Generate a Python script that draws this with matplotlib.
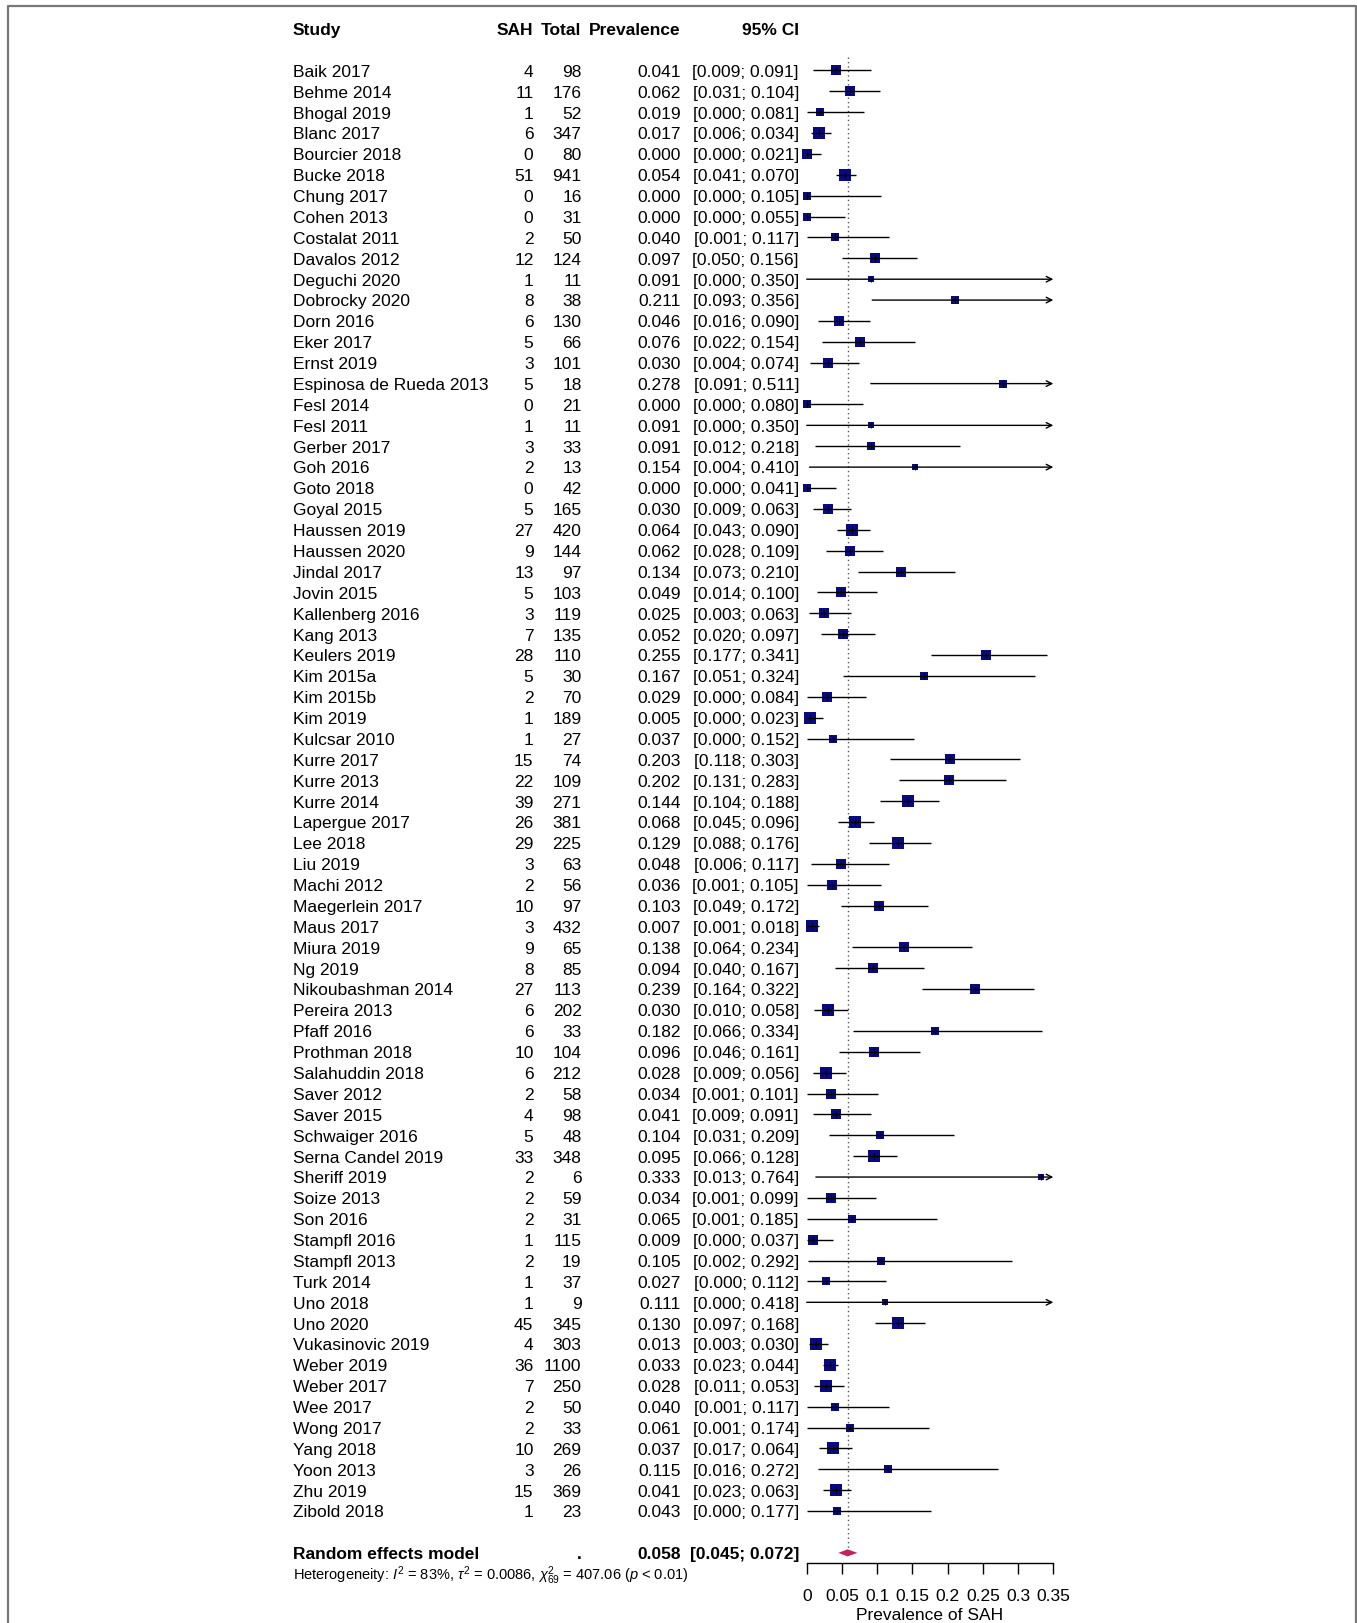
import matplotlib
matplotlib.use("Agg")
import matplotlib.pyplot as plt
import numpy as np
from matplotlib import transforms
from matplotlib.lines import Line2D

plt.rcParams['font.family'] = ['Liberation Sans', 'DejaVu Sans']
plt.rcParams['mathtext.fontset'] = 'custom'
plt.rcParams['mathtext.rm'] = 'Liberation Sans'
plt.rcParams['mathtext.it'] = 'Liberation Sans:italic'
plt.rcParams['mathtext.bf'] = 'Liberation Sans:bold'

# ---------------- data ----------------
studies = ["Baik 2017", "Behme 2014", "Bhogal 2019", "Blanc 2017", "Bourcier 2018",
           "Bucke 2018", "Chung 2017", "Cohen 2013", "Costalat 2011", "Davalos 2012",
           "Deguchi 2020", "Dobrocky 2020", "Dorn 2016", "Eker 2017", "Ernst 2019",
           "Espinosa de Rueda 2013", "Fesl 2014", "Fesl 2011", "Gerber 2017", "Goh 2016",
           "Goto 2018", "Goyal 2015", "Haussen 2019", "Haussen 2020", "Jindal 2017",
           "Jovin 2015", "Kallenberg 2016", "Kang 2013", "Keulers 2019", "Kim 2015a",
           "Kim 2015b", "Kim 2019", "Kulcsar 2010", "Kurre 2017", "Kurre 2013",
           "Kurre 2014", "Lapergue 2017", "Lee 2018", "Liu 2019", "Machi 2012",
           "Maegerlein 2017", "Maus 2017", "Miura 2019", "Ng 2019", "Nikoubashman 2014",
           "Pereira 2013", "Pfaff 2016", "Prothman 2018", "Salahuddin 2018", "Saver 2012",
           "Saver 2015", "Schwaiger 2016", "Serna Candel 2019", "Sheriff 2019", "Soize 2013",
           "Son 2016", "Stampfl 2016", "Stampfl 2013", "Turk 2014", "Uno 2018",
           "Uno 2020", "Vukasinovic 2019", "Weber 2019", "Weber 2017", "Wee 2017",
           "Wong 2017", "Yang 2018", "Yoon 2013", "Zhu 2019", "Zibold 2018"]
sah = [4, 11, 1, 6, 0, 51, 0, 0, 2, 12,
       1, 8, 6, 5, 3, 5, 0, 1, 3, 2,
       0, 5, 27, 9, 13, 5, 3, 7, 28, 5,
       2, 1, 1, 15, 22, 39, 26, 29, 3, 2,
       10, 3, 9, 8, 27, 6, 6, 10, 6, 2,
       4, 5, 33, 2, 2, 2, 1, 2, 1, 1,
       45, 4, 36, 7, 2, 2, 10, 3, 15, 1]
total = [98, 176, 52, 347, 80, 941, 16, 31, 50, 124,
         11, 38, 130, 66, 101, 18, 21, 11, 33, 13,
         42, 165, 420, 144, 97, 103, 119, 135, 110, 30,
         70, 189, 27, 74, 109, 271, 381, 225, 63, 56,
         97, 432, 65, 85, 113, 202, 33, 104, 212, 58,
         98, 48, 348, 6, 59, 31, 115, 19, 37, 9,
         345, 303, 1100, 250, 50, 33, 269, 26, 369, 23]
prev = [0.041, 0.062, 0.019, 0.017, 0.000, 0.054, 0.000, 0.000, 0.040, 0.097,
        0.091, 0.211, 0.046, 0.076, 0.030, 0.278, 0.000, 0.091, 0.091, 0.154,
        0.000, 0.030, 0.064, 0.062, 0.134, 0.049, 0.025, 0.052, 0.255, 0.167,
        0.029, 0.005, 0.037, 0.203, 0.202, 0.144, 0.068, 0.129, 0.048, 0.036,
        0.103, 0.007, 0.138, 0.094, 0.239, 0.030, 0.182, 0.096, 0.028, 0.034,
        0.041, 0.104, 0.095, 0.333, 0.034, 0.065, 0.009, 0.105, 0.027, 0.111,
        0.130, 0.013, 0.033, 0.028, 0.040, 0.061, 0.037, 0.115, 0.041, 0.043]
ci_low = [0.009, 0.031, 0.000, 0.006, 0.000, 0.041, 0.000, 0.000, 0.001, 0.050,
          0.000, 0.093, 0.016, 0.022, 0.004, 0.091, 0.000, 0.000, 0.012, 0.004,
          0.000, 0.009, 0.043, 0.028, 0.073, 0.014, 0.003, 0.020, 0.177, 0.051,
          0.000, 0.000, 0.000, 0.118, 0.131, 0.104, 0.045, 0.088, 0.006, 0.001,
          0.049, 0.001, 0.064, 0.040, 0.164, 0.010, 0.066, 0.046, 0.009, 0.001,
          0.009, 0.031, 0.066, 0.013, 0.001, 0.001, 0.000, 0.002, 0.000, 0.000,
          0.097, 0.003, 0.023, 0.011, 0.001, 0.001, 0.017, 0.016, 0.023, 0.000]
ci_high = [0.091, 0.104, 0.081, 0.034, 0.021, 0.070, 0.105, 0.055, 0.117, 0.156,
           0.350, 0.356, 0.090, 0.154, 0.074, 0.511, 0.080, 0.350, 0.218, 0.410,
           0.041, 0.063, 0.090, 0.109, 0.210, 0.100, 0.063, 0.097, 0.341, 0.324,
           0.084, 0.023, 0.152, 0.303, 0.283, 0.188, 0.096, 0.176, 0.117, 0.105,
           0.172, 0.018, 0.234, 0.167, 0.322, 0.058, 0.334, 0.161, 0.056, 0.101,
           0.091, 0.209, 0.128, 0.764, 0.099, 0.185, 0.037, 0.292, 0.112, 0.418,
           0.168, 0.030, 0.044, 0.053, 0.117, 0.174, 0.064, 0.272, 0.063, 0.177]

re_label = "Random effects model"
re_est, re_low, re_high = 0.058, 0.045, 0.072
tau2 = 0.0086
het_text = (r"Heterogeneity: $I^2$ = 83%, $\tau^2$ = 0.0086, "
            r"$\chi^2_{69}$ = 407.06 ($p$ < 0.01)")
xticks = [0, 0.05, 0.1, 0.15, 0.2, 0.25, 0.3, 0.35]
xticklabels = ["0", "0.05", "0.1", "0.15", "0.2", "0.25", "0.3", "0.35"]
xlabel = "Prevalence of SAH"
headers = ["Study", "SAH", "Total", "Prevalence", "95% CI"]

# ---------------- layout ----------------
W, H = 1357, 1623
fig = plt.figure(figsize=(W / 100, H / 100), dpi=100)
row0, dy = 70.4, 20.88
ax_left, ax_right = 806.7, 1053.3
ax_top_row = -3
ax_bottom_pix = 1562.7
ax_top_pix = row0 + dy * ax_top_row
ax = fig.add_axes([ax_left / W, 1 - ax_bottom_pix / H,
                   (ax_right - ax_left) / W, (ax_bottom_pix - ax_top_pix) / H])
ax.set_xlim(0, 0.35)
ax.set_ylim((ax_bottom_pix - row0) / dy, ax_top_row)
ax.set_facecolor('none')
for s in ['top', 'right', 'left']:
    ax.spines[s].set_visible(False)
ax.spines['bottom'].set_linewidth(1.0)
ax.set_yticks([])
ax.set_xticks(xticks)
ax.set_xticklabels(xticklabels)
ax.tick_params(axis='x', direction='out', length=7.7, width=1.0,
               labelsize=12.5, pad=11)
ax.set_xlabel(xlabel, fontsize=12.5, labelpad=3)

n = len(studies)
rows = np.arange(n)
re_row = n + 1
hdr_row = -2
het_row = n + 2
toff = 0.09  # text baseline nudge (rows)

trans = transforms.blended_transform_factory(fig.transFigure, ax.transData)
FS = 12.5
x_study, x_sah, x_tot, x_prev, x_ci = 293.0 / W, 533.5 / W, 581.5 / W, 680.5 / W, 799.0 / W

# headers
hdr_x = [x_study, x_sah, x_tot, x_prev, x_ci]
hdr_ha = ['left', 'right', 'right', 'right', 'right']
for lab, xx, ha in zip(headers, hdr_x, hdr_ha):
    ax.text(xx, hdr_row + toff, lab, transform=trans, ha=ha, va='center',
            fontsize=FS, fontweight='bold', clip_on=False)

# study rows
for i in range(n):
    r = rows[i] + toff
    ax.text(x_study, r, studies[i], transform=trans, ha='left', va='center', fontsize=FS)
    ax.text(x_sah, r, f"{sah[i]}", transform=trans, ha='right', va='center', fontsize=FS)
    ax.text(x_tot, r, f"{total[i]}", transform=trans, ha='right', va='center', fontsize=FS)
    ax.text(x_prev, r, f"{prev[i]:.3f}", transform=trans, ha='right', va='center', fontsize=FS)
    ax.text(x_ci, r, f"[{ci_low[i]:.3f}; {ci_high[i]:.3f}]", transform=trans,
            ha='right', va='center', fontsize=FS)

# random effects row
ax.text(x_study, re_row + toff, re_label, transform=trans, ha='left', va='center',
        fontsize=FS, fontweight='bold')
ax.text(x_tot, re_row + toff, ".", transform=trans, ha='right', va='center',
        fontsize=FS, fontweight='bold')
ax.text(x_prev, re_row + toff, f"{re_est:.3f}", transform=trans, ha='right', va='center',
        fontsize=FS, fontweight='bold')
ax.text(x_ci, re_row + toff, f"[{re_low:.3f}; {re_high:.3f}]", transform=trans, ha='right',
        va='center', fontsize=FS, fontweight='bold')
ax.text(x_study, het_row + toff, het_text, transform=trans, ha='left', va='center',
        fontsize=10.5, clip_on=False)

# reference dotted line
ax.plot([re_est, re_est], [-0.65, re_row - 0.17], color='#555555', lw=1.0,
        ls=(0, (1, 2.2)), zorder=1)

# CIs, squares
xmax = ax.get_xlim()[1]
navy = '#0a0a80'
for i in range(n):
    r = rows[i]
    hi = ci_high[i]
    if hi >= xmax:
        ax.annotate("", xy=(xmax, r), xytext=(ci_low[i], r),
                    arrowprops=dict(arrowstyle='->', color='black', lw=1.0,
                                    shrinkA=0, shrinkB=0, mutation_scale=10),
                    annotation_clip=False, zorder=3)
    else:
        ax.plot([ci_low[i], hi], [r, r], color='black', lw=1.0, zorder=3,
                solid_capstyle='butt', clip_on=False)
    w = 1.0 / (1.0 / (total[i] + 0.5) + tau2)
    side_px = 3.8 + 0.85 * np.sqrt(w)
    ax.plot([prev[i]], [r], marker='s', ms=side_px * 0.72, color=navy,
            mec=navy, mew=0, ls='none', zorder=2, clip_on=False)
    ax.plot([prev[i]], [r], marker='|', ms=4.0, color='black', mew=0.8,
            ls='none', zorder=4, clip_on=False)

# diamond
h = 0.17
ax.fill([re_low, re_est, re_high, re_est], [re_row, re_row - h, re_row, re_row + h],
        color='#c0245e', lw=0, zorder=3, clip_on=False)

# frame
fl, ft, fr = 7.5 / W, 1 - 6.0 / H, 1355.5 / W
frame = Line2D([fl, fl, fr, fr], [-0.1, ft, ft, -0.1], transform=fig.transFigure,
               color='#777777', lw=1.6)
fig.add_artist(frame)

fig.savefig("out.png", dpi=100, facecolor='white')
